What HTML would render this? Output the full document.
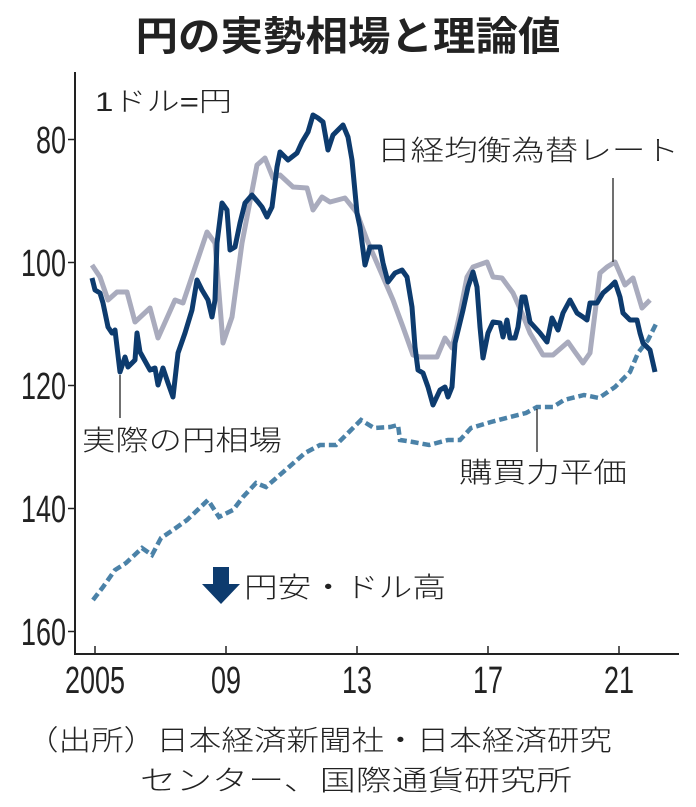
<!DOCTYPE html>
<html><head><meta charset="utf-8"><style>
html,body{margin:0;padding:0;background:#fff;}
svg{display:block;}
text{font-family:"Liberation Sans","Noto Sans CJK JP",sans-serif;}
.lt{font-weight:300;}
</style></head><body>
<svg width="696" height="807" viewBox="0 0 696 807" xmlns="http://www.w3.org/2000/svg">
<rect width="696" height="807" fill="#fff"/>
<text x="348" y="50" text-anchor="middle" font-size="40" font-weight="bold" fill="#222" textLength="425" lengthAdjust="spacingAndGlyphs">円の実勢相場と理論値</text>

<!-- axes -->
<path d="M75,72 V654 H679" fill="none" stroke="#222" stroke-width="2"/>
<g stroke="#222" stroke-width="1.5">
<line x1="68" y1="139.5" x2="75" y2="139.5"/><line x1="68" y1="262.5" x2="75" y2="262.5"/>
<line x1="68" y1="385.5" x2="75" y2="385.5"/><line x1="68" y1="508.5" x2="75" y2="508.5"/>
<line x1="68" y1="631.5" x2="75" y2="631.5"/>
<line x1="95" y1="646" x2="95" y2="654"/><line x1="226" y1="646" x2="226" y2="654"/>
<line x1="357" y1="646" x2="357" y2="654"/><line x1="488" y1="646" x2="488" y2="654"/>
<line x1="619" y1="646" x2="619" y2="654"/>
</g>
<g font-size="38" fill="#222" text-anchor="end">
<text x="66" y="153" textLength="30" lengthAdjust="spacingAndGlyphs">80</text>
<text x="66" y="276" textLength="45" lengthAdjust="spacingAndGlyphs">100</text>
<text x="66" y="399" textLength="45" lengthAdjust="spacingAndGlyphs">120</text>
<text x="66" y="522" textLength="45" lengthAdjust="spacingAndGlyphs">140</text>
<text x="66" y="645" textLength="45" lengthAdjust="spacingAndGlyphs">160</text>
</g>
<g font-size="38" fill="#222" text-anchor="middle">
<text x="95" y="693" textLength="60" lengthAdjust="spacingAndGlyphs">2005</text>
<text x="226" y="693" textLength="30" lengthAdjust="spacingAndGlyphs">09</text>
<text x="357" y="693" textLength="30" lengthAdjust="spacingAndGlyphs">13</text>
<text x="488" y="693" textLength="30" lengthAdjust="spacingAndGlyphs">17</text>
<text x="619" y="693" textLength="30" lengthAdjust="spacingAndGlyphs">21</text>
</g>
<text class="lt" x="95" y="111" font-size="27" fill="#222" textLength="137" lengthAdjust="spacingAndGlyphs">1ドル=円</text>

<!-- Nikkei equilibrium (gray) -->
<polyline fill="none" stroke="#a9abbd" stroke-width="5" stroke-linejoin="round" points="92,265 100,277 108,300 117,292 127,292 135,322 150,308 158,338 175,300 183,303 207,232 215,243 223,343 232,317 242,243 257,165 265,158 273,178 280,175 293,187 307,188 313,210 322,197 330,202 345,198 357,213 367,240 380,270 393,300 403,327 413,355 420,357 437,357 445,338 452,348 460,313 467,277 473,267 487,262 493,277 502,278 513,293 522,313 530,333 543,355 553,355 568,342 575,352 583,363 590,353 600,273 607,267 615,262 625,285 633,278 642,308 650,300"/>

<!-- PPP dashed -->
<polyline fill="none" stroke="#4b82a8" stroke-width="4.5" stroke-dasharray="8,4" points="93,600 103,587 115,570 126,563 142,548 152,555 161,538 173,530 187,520 208,500 219,517 233,510 243,497 256,483 266,487 274,480 289,467 305,453 320,445 336,445 351,430 361,420 374,428 390,427 398,425 400,440 413,442 429,445 448,440 460,440 471,428 491,422 510,417 526,413 537,407 553,407 564,400 584,395 599,398 615,387 630,372 638,353 648,340 657,322"/>

<!-- actual (dark) -->
<polyline fill="none" stroke="#0d3b6e" stroke-width="5" stroke-linejoin="round" points="92,278 95,290 100,293 103,303 108,327 112,333 115,330 120,372 125,357 128,367 135,360 137,333 140,352 150,370 155,368 158,385 163,368 168,383 173,397 178,353 185,333 192,310 197,280 202,290 208,300 212,317 215,300 217,243 222,203 227,210 230,250 235,247 240,223 245,203 252,195 258,202 262,207 267,217 272,207 277,167 280,152 288,160 297,153 302,142 308,132 313,115 318,118 323,122 328,150 333,135 343,125 348,137 352,160 357,213 360,227 365,265 370,247 380,247 383,263 388,282 395,273 402,270 407,277 412,307 415,347 418,370 423,373 428,387 433,405 440,390 445,387 448,397 452,387 455,343 463,310 468,287 473,272 477,287 480,327 483,358 488,333 493,322 500,323 503,337 507,320 510,338 515,338 518,327 522,297 525,297 530,322 540,333 547,342 552,318 558,330 563,313 570,300 577,313 583,317 587,320 590,303 597,303 603,293 610,287 615,282 620,297 623,313 630,320 637,320 640,333 643,343 650,350 655,372"/>

<!-- annotations -->
<g stroke="#222" stroke-width="1.3">
<line x1="120" y1="375" x2="120" y2="418"/>
<line x1="613" y1="178" x2="613" y2="262"/>
<line x1="537" y1="409" x2="537" y2="452"/>
</g>
<g class="lt" font-size="28" fill="#222">
<text x="82" y="450" textLength="200" lengthAdjust="spacingAndGlyphs">実際の円相場</text>
<text x="377" y="160" textLength="302" lengthAdjust="spacingAndGlyphs">日経均衡為替レート</text>
<text x="459" y="482" textLength="168" lengthAdjust="spacingAndGlyphs">購買力平価</text>
<text x="244" y="597" textLength="202" lengthAdjust="spacingAndGlyphs">円安・ドル高</text>
</g>
<path d="M213,567 H229 V584 H240 L221,604 L202,584 H213 Z" fill="#0d3b6e"/>

<g class="lt" font-size="28" fill="#222">
<text x="26" y="750" textLength="586" lengthAdjust="spacingAndGlyphs">（出所）日本経済新聞社・日本経済研究</text>
<text x="140" y="790" textLength="432" lengthAdjust="spacingAndGlyphs">センター、国際通貨研究所</text>
</g>
</svg>
</body></html>
